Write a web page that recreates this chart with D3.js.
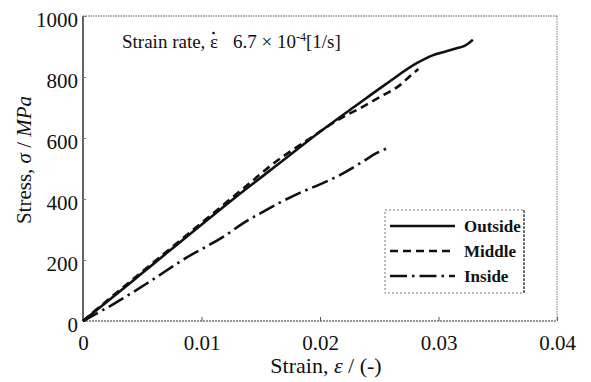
<!DOCTYPE html>
<html><head><meta charset="utf-8">
<script src="https://cdn.jsdelivr.net/npm/d3@7"></script>
<style>body{margin:0;background:#fff}svg{display:block}</style>
</head><body>
<svg id="c" width="591" height="382"></svg>
<script>
const xTicks = [0, 0.01, 0.02, 0.03, 0.04];
const xTickLabels = ["0", "0.01", "0.02", "0.03", "0.04"];
const yTicks = [0, 200, 400, 600, 800, 1000];
const yTickLabels = ["0", "200", "400", "600", "800", "1000"];
const seriesNames = ["Outside", "Middle", "Inside"];
const outside = [[0,0],[0.002,62],[0.005,157],[0.0107,338],[0.014,440],[0.0164,512],[0.0192,597],[0.0231,708],[0.0255,775],[0.0282,846],[0.0295,871],[0.0306,884],[0.0316,895],[0.0322,902],[0.0326,912],[0.0329,922]];
const middle = [[0,0],[0.002,66],[0.005,162],[0.0107,344],[0.014,450],[0.0164,526],[0.0177,561],[0.0192,600],[0.0219,668],[0.0234,698],[0.025,733],[0.0268,775],[0.0276,803],[0.0283,826]];
const inside = [[0,0],[0.0025,54],[0.0055,126],[0.0087,207],[0.012,280],[0.0135,320],[0.015,354],[0.0165,386],[0.0183,420],[0.02,448],[0.0217,479],[0.0235,520],[0.0248,551],[0.0257,567]];
const seriesData = [outside, middle, inside];
const dashes = [null, "8,5", "17,5,2.5,5"];

const svg = d3.select("#c");
const x = d3.scaleLinear().domain([0, 0.04]).range([83, 557]);
const y = d3.scaleLinear().domain([0, 1000]).range([321, 16]);
const serif = "Liberation Serif, Times New Roman, serif";

// frame
svg.append("line").attr("x1",83).attr("x2",557).attr("y1",16).attr("y2",16).attr("stroke","#555").attr("stroke-dasharray","1.5,1").attr("stroke-width",1);
svg.append("line").attr("x1",557).attr("x2",557).attr("y1",16).attr("y2",321).attr("stroke","#777").attr("stroke-dasharray","1.5,1").attr("stroke-width",1);
svg.append("line").attr("x1",83).attr("x2",557).attr("y1",321).attr("y2",321).attr("stroke","#333").attr("stroke-dasharray","2,1").attr("stroke-width",1.2);
svg.append("line").attr("x1",83).attr("x2",83).attr("y1",16).attr("y2",321).attr("stroke","#111").attr("stroke-width",1.3);

// axes
const xAxis = d3.axisBottom(x).tickValues(xTicks).tickFormat((d,i)=>xTickLabels[i]).tickSize(-4).tickPadding(14);
const gx = svg.append("g").attr("transform","translate(0,321)").call(xAxis);
gx.attr("font-family", null).attr("font-size", null);
gx.select(".domain").remove();
gx.selectAll(".tick line").attr("stroke","#555");
gx.selectAll("text").style("font-family",serif).style("font-size","21px").attr("fill","#111");

const yAxis = d3.axisLeft(y).tickValues(yTicks).tickFormat((d,i)=>yTickLabels[i]).tickSize(-3).tickPadding(5);
const gy = svg.append("g").attr("transform","translate(83,0)").call(yAxis);
gy.attr("font-family", null).attr("font-size", null);
gy.select(".domain").remove();
gy.selectAll(".tick line").attr("stroke","#777");
gy.selectAll("text").style("font-family",serif).style("font-size","21px").attr("fill","#111").attr("dy","0.5em");

// axis titles
svg.append("text").attr("x",326).attr("y",373).attr("text-anchor","middle").style("font-family",serif).style("font-size","22px").attr("fill","#111")
  .html("Strain, <tspan font-style='italic'>ε</tspan> / (-)");
svg.append("text").attr("transform","translate(31,160) rotate(-90)").attr("text-anchor","middle").style("font-family",serif).style("font-size","21px").attr("fill","#111")
  .html("Stress, <tspan font-style='italic'>σ</tspan> / <tspan font-style='italic'>MPa</tspan>");

// annotation
const annStyle = s => s.style("font-family",serif).style("font-size","19px").attr("fill","#111");
svg.append("text").attr("x",122).attr("y",48).call(annStyle).text("Strain rate,");
svg.append("text").attr("x",210).attr("y",48).call(annStyle).text("ε");
svg.append("circle").attr("cx",213.5).attr("cy",33).attr("r",1.3).attr("fill","#111");
const ann = svg.append("text").attr("x",233).attr("y",48).call(annStyle);
ann.append("tspan").text("6.7 × 10");
ann.append("tspan").style("font-size","12px").attr("dy",-7).text("-4");
ann.append("tspan").attr("dy",7).text("[1/s]");

// lines
const line = d3.line().x(d=>x(d[0])).y(d=>y(d[1])).curve(d3.curveMonotoneX);
seriesData.forEach((s,i)=>{
  svg.append("path").datum(s).attr("d",line).attr("fill","none").attr("stroke","#111").attr("stroke-width",2.6)
    .attr("stroke-dasharray",dashes[i]);
});

// legend
const lg = svg.append("g");
lg.append("rect").attr("x",385).attr("y",210).attr("width",139).attr("height",83).attr("fill","#fff").attr("stroke","#777").attr("stroke-dasharray","2,2").attr("stroke-width",1);
lg.append("line").attr("x1",524).attr("x2",524).attr("y1",210).attr("y2",293).attr("stroke","#222").attr("stroke-dasharray","3,1");
seriesNames.forEach((n,i)=>{
  const yy = 226 + i*25;
  lg.append("line").attr("x1",390).attr("x2",455).attr("y1",yy).attr("y2",yy).attr("stroke","#111").attr("stroke-width",2.6).attr("stroke-dasharray",dashes[i]);
  lg.append("text").attr("x",464).attr("y",yy+6).style("font-family",serif).style("font-weight","bold").style("font-size","17px").attr("fill","#111").text(n);
});
</script>
</body></html>
